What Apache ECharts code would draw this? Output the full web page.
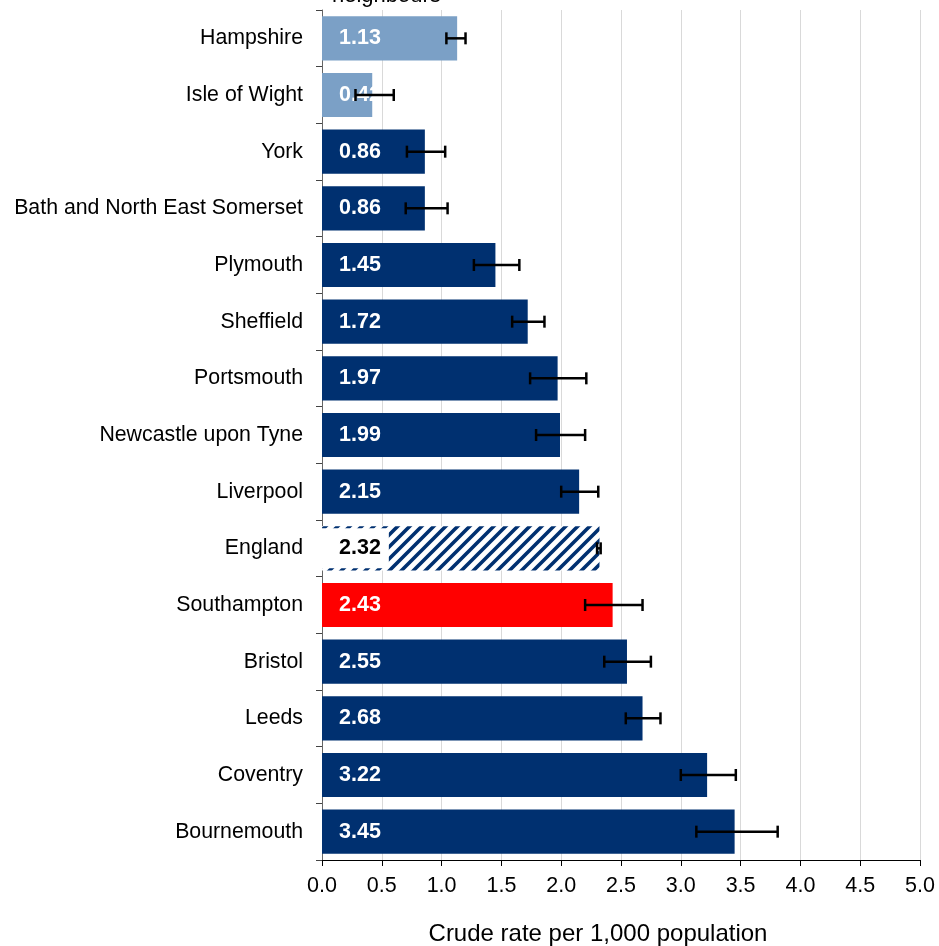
<!DOCTYPE html>
<html><head><meta charset="utf-8">
<script src="https://cdn.jsdelivr.net/npm/echarts@6/dist/echarts.min.js"></script>
<style>html,body{margin:0;padding:0;background:#fff}#c{width:939px;height:946px}</style>
</head><body><div id="c"></div>
<script>
const categories = ["Hampshire","Isle of Wight","York","Bath and North East Somerset","Plymouth","Sheffield","Portsmouth","Newcastle upon Tyne","Liverpool","England","Southampton","Bristol","Leeds","Coventry","Bournemouth"];
const values = [1.13,0.42,0.86,0.86,1.45,1.72,1.97,1.99,2.15,2.32,2.43,2.55,2.68,3.22,3.45];
const lower = [1.04,0.28,0.71,0.70,1.27,1.59,1.74,1.79,2.00,2.30,2.20,2.36,2.54,3.00,3.13];
const upper = [1.20,0.60,1.03,1.05,1.65,1.86,2.21,2.20,2.31,2.33,2.68,2.75,2.83,3.46,3.81];
const xTicks = ["0.0","0.5","1.0","1.5","2.0","2.5","3.0","3.5","4.0","4.5","5.0"];
const lightNames = ["Hampshire","Isle of Wight"];

const NAVY = '#003070', LIGHT = '#7BA0C6', RED = '#FF0000';
const FONT = 'Liberation Sans, Arial, sans-serif';

// hatch pattern
const tile = document.createElement('canvas');
const s = 12; tile.width = s; tile.height = s;
const g = tile.getContext('2d');
g.fillStyle = '#fff'; g.fillRect(0,0,s,s);
g.strokeStyle = NAVY; g.lineWidth = 3.6;
g.beginPath();
g.moveTo(-s/2, s/2); g.lineTo(s/2, -s/2);
g.moveTo(0, s); g.lineTo(s, 0);
g.moveTo(s/2, s*1.5); g.lineTo(s*1.5, s/2);
g.stroke();

const barData = categories.map((c, i) => {
  let item = { value: values[i], itemStyle: { color: NAVY } };
  if (lightNames.includes(c)) item.itemStyle.color = LIGHT;
  if (c === 'Southampton') item.itemStyle.color = RED;
  if (c === 'England') {
    item.itemStyle.color = { image: tile, repetition: 'repeat' };
    item.label = { color: '#000', backgroundColor: '#fff', distance: 0, padding: [9, 8, 9, 17] };
  }
  return item;
});

const errData = categories.map((c, i) => [i, lower[i], upper[i]]);

const chart = echarts.init(document.getElementById('c'));
chart.setOption({
  animation: false,
  textStyle: { fontFamily: FONT },
  grid: { left: 322, right: 19, top: 10, bottom: 86, containLabel: false, outerBoundsMode: 'none' },
  xAxis: {
    type: 'value', min: 0, max: 5, interval: 0.5,
    axisLine: { show: true, lineStyle: { color: '#000', width: 1 } },
    axisTick: { show: true, length: 6, lineStyle: { color: '#000' } },
    axisLabel: { color: '#000', fontSize: 21.5, margin: 15, fontFamily: FONT,
      formatter: (v) => xTicks[Math.round(v * 2)] },
    splitLine: { show: true, lineStyle: { color: '#D9D9D9', width: 1 } },
    name: 'Crude rate per 1,000 population', nameLocation: 'middle', nameGap: 62,
    nameTextStyle: { color: '#000', fontSize: 24, fontFamily: FONT, padding: [0, 46, 0, 0] }
  },
  yAxis: {
    type: 'category', data: categories, inverse: true,
    axisLine: { show: true, lineStyle: { color: '#666', width: 1 } },
    axisTick: { show: true, length: 6, lineStyle: { color: '#444' } },
    axisLabel: { color: '#000', fontSize: 21.3, margin: 19, fontFamily: FONT }
  },
  graphic: [{
    type: 'text', left: 332, top: -15,
    style: { text: 'neighbours', fontSize: 22, fontFamily: FONT, fill: '#000' }
  }],
  series: [{
    type: 'bar', data: barData, barCategoryGap: '22%',
    label: { show: true, position: 'insideLeft', distance: 17, color: '#fff',
      fontWeight: 'bold', fontSize: 21.5, fontFamily: FONT,
      formatter: (p) => values[p.dataIndex].toFixed(2) },
    z: 2
  }, {
    type: 'custom', data: errData, z: 3,
    renderItem: function (params, api) {
      const yi = api.value(0);
      const p1 = api.coord([api.value(1), yi]);
      const p2 = api.coord([api.value(2), yi]);
      const h = 6;
      const st = { stroke: '#000', lineWidth: 2.5 };
      return { type: 'group', children: [
        { type: 'line', shape: { x1: p1[0], y1: p1[1], x2: p2[0], y2: p2[1] }, style: st },
        { type: 'line', shape: { x1: p1[0], y1: p1[1] - h, x2: p1[0], y2: p1[1] + h }, style: st },
        { type: 'line', shape: { x1: p2[0], y1: p2[1] - h, x2: p2[0], y2: p2[1] + h }, style: st }
      ]};
    },
    encode: { x: [1, 2], y: 0 }
  }]
});
</script></body></html>
